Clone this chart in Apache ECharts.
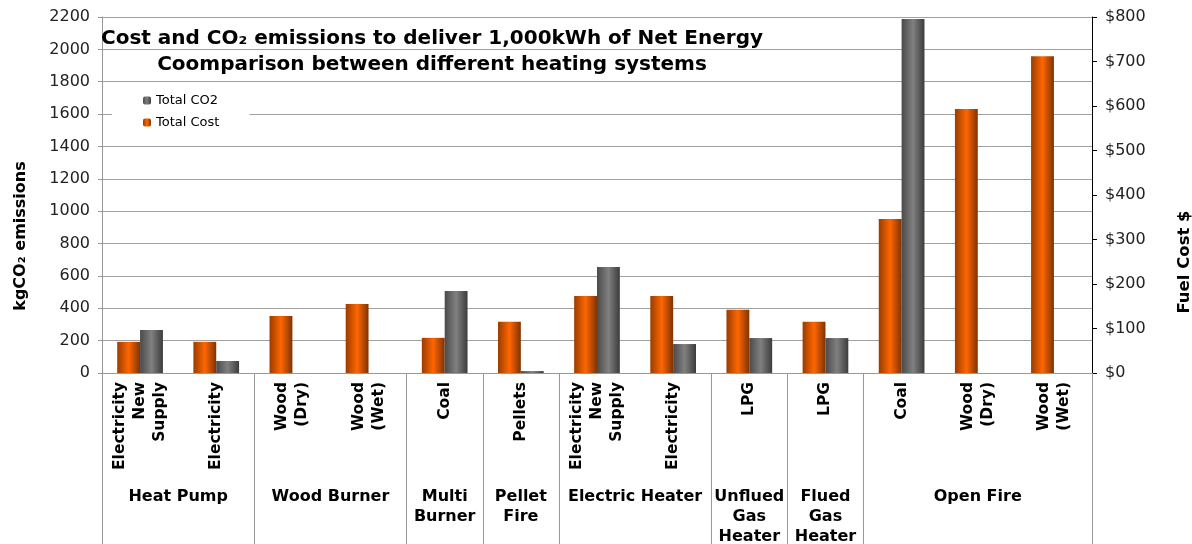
<!DOCTYPE html>
<html>
<head>
<meta charset="utf-8">
<script src="https://cdn.jsdelivr.net/npm/echarts@6/dist/echarts.min.js"></script>
<style>
  html, body { margin: 0; padding: 0; background: #fff; }
  #chart { width: 1192px; height: 544px; }
</style>
</head>
<body>
<div id="chart"></div>
<script>
// sub categories (fuel) along the x axis
const fuels = [
  "Electricity\nNew\nSupply", "Electricity",
  "Wood\n(Dry)", "Wood\n(Wet)",
  "Coal",
  "Pellets",
  "Electricity\nNew\nSupply", "Electricity",
  "LPG",
  "LPG",
  "Coal", "Wood\n(Dry)", "Wood\n(Wet)"
];
// heating systems and how many fuels each one spans
const groupNames = ["Heat Pump", "Wood Burner", "Multi\nBurner", "Pellet\nFire",
  "Electric Heater", "Unflued\nGas\nHeater", "Flued\nGas\nHeater", "Open Fire"];
const groupSizes = [2, 2, 1, 1, 2, 1, 1, 3];

const totalCost = [70, 70, 128, 155, 79, 115, 173, 173, 142, 115, 346, 593, 712];
const totalCO2 = [266, 74, 0, 0, 507, 12, 655, 179, 216, 216, 2188, 0, 0];

const co2Ticks = { min: 0, max: 2200, step: 200 };
const costTicks = { min: 0, max: 800, step: 100 };

const font = "DejaVu Sans";

// group axis works in half-category steps so every group centre lands on a slot
let groupAxis = new Array(fuels.length * 2 + 1).fill("");
let groupEdges = new Set([0]);
let pos = 0;
groupNames.forEach((name, i) => {
  groupAxis[pos * 2 + groupSizes[i]] = name;
  pos += groupSizes[i];
  groupEdges.add(pos * 2);
});

function barGradient(edgeL, mid, edgeR) {
  return new echarts.graphic.LinearGradient(0, 0, 1, 0, [
    { offset: 0, color: edgeL },
    { offset: 0.5, color: mid },
    { offset: 1, color: edgeR }
  ]);
}

const option = {
  backgroundColor: "#fff",
  textStyle: { fontFamily: font },
  animation: false,
  title: {
    text: "Cost and CO₂ emissions to deliver 1,000kWh of Net Energy\nCoomparison between different heating systems",
    left: 432,
    top: 26,
    padding: 0,
    textAlign: "center",
    textStyle: { fontFamily: font, fontSize: 20, fontWeight: "bold", color: "#000", lineHeight: 26 }
  },
  legend: {
    data: ["Total CO2", "Total Cost"],
    orient: "vertical",
    left: 112,
    top: 88,
    padding: [6, 30, 6, 31],
    backgroundColor: "#fff",
    itemWidth: 8,
    itemHeight: 8,
    itemGap: 9,
    textStyle: { fontFamily: font, fontSize: 13, color: "#000" }
  },
  grid: { left: 102, right: 100, top: 17, bottom: 171, outerBoundsMode: "none", containLabel: false },
  xAxis: [
    {
      type: "category",
      data: fuels,
      position: "bottom",
      axisLine: { lineStyle: { color: "#999" } },
      axisTick: { interval: 0, length: 100, lineStyle: { color: "#999" } },
      axisLabel: {
        interval: 0, rotate: 90, margin: 9,
        fontFamily: font, fontSize: 15.5, fontWeight: "bold", color: "#000", lineHeight: 20
      }
    },
    {
      type: "category",
      data: groupAxis,
      position: "bottom",
      boundaryGap: false,
      axisLine: { show: false },
      axisTick: {
        interval: (i) => groupEdges.has(i),
        length: 171,
        lineStyle: { color: "#999" }
      },
      axisLabel: {
        interval: 0, margin: 114, align: "center",
        fontFamily: font, fontSize: 16, fontWeight: "bold", color: "#000", lineHeight: 20
      }
    }
  ],
  yAxis: [
    {
      type: "value",
      position: "left",
      min: co2Ticks.min, max: co2Ticks.max, interval: co2Ticks.step,
      name: "kgCO₂ emissions",
      nameLocation: "middle",
      nameGap: 73,
      nameTextStyle: { fontFamily: font, fontSize: 16, fontWeight: "bold", color: "#000", padding: [0, 82, 0, 0] },
      axisLine: { show: true, lineStyle: { color: "#999" } },
      axisTick: { show: true, length: 4, lineStyle: { color: "#999" } },
      axisLabel: { fontFamily: font, fontSize: 16, color: "#222", margin: 12, formatter: (v) => String(v) },
      splitLine: { lineStyle: { color: "#a0a0a0" } }
    },
    {
      type: "value",
      position: "right",
      min: costTicks.min, max: costTicks.max, interval: costTicks.step,
      name: "Fuel Cost $",
      nameLocation: "middle",
      nameGap: 84,
      nameTextStyle: { fontFamily: font, fontSize: 16.5, fontWeight: "bold", color: "#000", padding: [0, 134, 0, 0] },
      axisLine: { show: true, lineStyle: { color: "#000" } },
      axisTick: { show: true, length: 5, lineStyle: { color: "#000" } },
      axisLabel: { fontFamily: font, fontSize: 16, color: "#222", margin: 13, formatter: (v) => "$" + v },
      splitLine: { show: false }
    }
  ],
  series: [
    {
      name: "Total Cost",
      type: "bar",
      xAxisIndex: 0,
      yAxisIndex: 1,
      data: totalCost,
      barGap: "0%",
      barCategoryGap: "40%",
      itemStyle: { color: barGradient("#9a3c00", "#ff6600", "#7f3300") }
    },
    {
      name: "Total CO2",
      type: "bar",
      xAxisIndex: 0,
      yAxisIndex: 0,
      data: totalCO2,
      barGap: "0%",
      barCategoryGap: "40%",
      itemStyle: { color: barGradient("#4a4a4a", "#808080", "#3c3c3c") }
    }
  ]
};

const chart = echarts.init(document.getElementById("chart"), null, { renderer: "canvas" });
chart.setOption(option);
</script>
</body>
</html>
